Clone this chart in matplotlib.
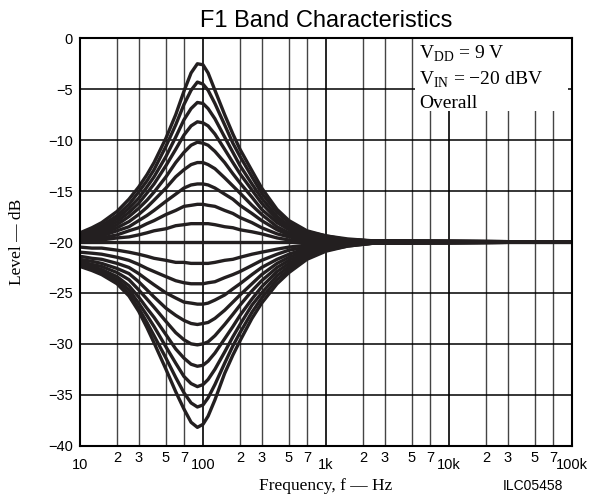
import matplotlib
matplotlib.use("Agg")
import matplotlib.pyplot as plt
from matplotlib.patches import Rectangle

plt.rcParams['font.family'] = ['Liberation Sans', 'DejaVu Sans']
plt.rcParams['mathtext.fontset'] = 'custom'
plt.rcParams['mathtext.rm'] = 'Liberation Serif'

# frequency points (Hz) the curves were read at
freqs = [10, 12.5, 15, 20, 25, 30, 35, 40, 50, 60, 70, 80, 90, 100, 110, 125,
         150, 175, 200, 250, 300, 400, 500, 700, 1000, 1500, 2500, 100000]

# boost settings, largest first (level in dB)
boost_levels = [
    [-19.1, -18.6, -18.1, -17.0, -15.8, -14.6, -13.4, -12.2, -9.8, -7.5, -5.2, -3.4, -2.5, -2.6,
     -3.4, -5.1, -7.5, -9.4, -10.9, -13.0, -14.7, -16.8, -17.9, -18.9, -19.4, -19.7, -19.9, -20.0],
    [-19.2, -18.8, -18.4, -17.4, -16.3, -15.1, -14.0, -12.9, -10.6, -8.5, -6.5, -5.1, -4.3, -4.5,
     -5.1, -6.4, -8.5, -10.3, -11.6, -13.6, -15.2, -17.1, -18.1, -19.0, -19.4, -19.8, -19.9, -20.0],
    [-19.3, -19.0, -18.6, -17.7, -16.7, -15.7, -14.6, -13.6, -11.6, -9.7, -8.0, -6.9, -6.3, -6.4,
     -6.9, -7.9, -9.7, -11.2, -12.5, -14.3, -15.7, -17.5, -18.4, -19.1, -19.5, -19.8, -19.9, -20.0],
    [-19.4, -19.1, -18.8, -18.0, -17.1, -16.2, -15.2, -14.3, -12.5, -10.9, -9.5, -8.6, -8.2, -8.3,
     -8.6, -9.4, -10.9, -12.2, -13.3, -14.9, -16.2, -17.8, -18.6, -19.2, -19.6, -19.8, -19.9, -20.0],
    [-19.5, -19.3, -19.0, -18.3, -17.5, -16.7, -15.9, -15.1, -13.6, -12.2, -11.2, -10.5, -10.2, -10.3,
     -10.5, -11.1, -12.2, -13.3, -14.2, -15.6, -16.8, -18.1, -18.8, -19.4, -19.7, -19.8, -19.9, -20.0],
    [-19.6, -19.4, -19.2, -18.6, -18.0, -17.3, -16.6, -15.9, -14.7, -13.6, -12.9, -12.4, -12.2, -12.2,
     -12.4, -12.8, -13.7, -14.5, -15.2, -16.4, -17.3, -18.5, -19.1, -19.5, -19.8, -19.9, -19.9, -20.0],
    [-19.7, -19.6, -19.4, -18.9, -18.5, -17.9, -17.4, -16.9, -16.0, -15.3, -14.7, -14.4, -14.3, -14.3,
     -14.4, -14.7, -15.3, -15.8, -16.4, -17.2, -17.9, -18.8, -19.3, -19.6, -19.8, -19.9, -20.0, -20.0],
    [-19.8, -19.7, -19.6, -19.3, -18.9, -18.6, -18.2, -17.9, -17.3, -16.9, -16.5, -16.4, -16.3, -16.3,
     -16.4, -16.5, -16.9, -17.2, -17.6, -18.1, -18.6, -19.2, -19.5, -19.8, -19.9, -19.9, -20.0, -20.0],
    [-19.9, -19.8, -19.8, -19.6, -19.5, -19.3, -19.1, -18.9, -18.7, -18.4, -18.3, -18.2, -18.2, -18.2,
     -18.2, -18.3, -18.5, -18.6, -18.8, -19.0, -19.2, -19.6, -19.8, -19.9, -19.9, -20.0, -20.0, -20.0],
]

flat_level = [-20.0] * len(freqs)

# cut settings, smallest first (level in dB)
cut_levels = [
    [-20.5, -20.6, -20.6, -20.8, -21.0, -21.2, -21.4, -21.6, -21.8, -22.0, -22.0, -22.1, -22.1, -22.1,
     -22.1, -22.0, -21.8, -21.7, -21.5, -21.2, -21.0, -20.7, -20.5, -20.3, -20.1, -20.1, -20.0, -20.0],
    [-21.0, -21.1, -21.2, -21.5, -21.8, -22.2, -22.6, -22.9, -23.4, -23.8, -24.0, -24.1, -24.1, -24.1,
     -24.0, -23.9, -23.5, -23.2, -22.9, -22.3, -21.8, -21.2, -20.8, -20.5, -20.2, -20.1, -20.0, -20.0],
    [-21.4, -21.6, -21.7, -22.1, -22.5, -23.1, -23.7, -24.2, -25.0, -25.5, -25.9, -26.0, -26.1, -26.1,
     -26.0, -25.7, -25.2, -24.6, -24.1, -23.2, -22.5, -21.7, -21.2, -20.6, -20.3, -20.2, -20.1, -20.0],
    [-21.7, -21.9, -22.1, -22.6, -23.1, -23.9, -24.7, -25.4, -26.5, -27.2, -27.7, -28.0, -28.1, -28.0,
     -27.9, -27.5, -26.7, -25.9, -25.2, -24.1, -23.2, -22.1, -21.5, -20.8, -20.4, -20.2, -20.1, -20.0],
    [-21.9, -22.2, -22.4, -23.0, -23.7, -24.7, -25.6, -26.4, -27.8, -28.9, -29.6, -30.0, -30.1, -30.0,
     -29.8, -29.2, -28.1, -27.1, -26.2, -24.8, -23.8, -22.5, -21.8, -21.0, -20.5, -20.2, -20.1, -20.0],
    [-22.1, -22.4, -22.7, -23.4, -24.3, -25.4, -26.5, -27.4, -29.1, -30.5, -31.4, -32.0, -32.2, -32.1,
     -31.7, -30.9, -29.5, -28.3, -27.2, -25.6, -24.4, -22.9, -22.1, -21.2, -20.6, -20.3, -20.1, -20.0],
    [-22.2, -22.5, -22.9, -23.7, -24.7, -26.0, -27.2, -28.3, -30.3, -31.9, -33.2, -33.9, -34.2, -34.0,
     -33.5, -32.5, -30.8, -29.3, -28.1, -26.2, -25.0, -23.3, -22.4, -21.3, -20.7, -20.3, -20.1, -20.0],
    [-22.3, -22.7, -23.1, -23.9, -25.1, -26.5, -27.9, -29.2, -31.4, -33.3, -34.8, -35.8, -36.2, -36.0,
     -35.3, -34.0, -31.9, -30.2, -28.9, -26.9, -25.5, -23.7, -22.7, -21.5, -20.8, -20.4, -20.1, -20.0],
    [-22.4, -22.8, -23.2, -24.1, -25.3, -26.8, -28.4, -29.9, -32.5, -34.7, -36.4, -37.7, -38.2, -37.9,
     -37.1, -35.5, -32.9, -31.1, -29.7, -27.5, -26.0, -24.1, -23.0, -21.7, -20.9, -20.4, -20.1, -20.0],
]

y_ticks = [0, -5, -10, -15, -20, -25, -30, -35, -40]
x_major = [10, 100, 1000, 10000, 100000]
x_major_labels = ['10', '100', '1k', '10k', '100k']
decades = [10, 100, 1000, 10000]
mults = [2, 3, 5, 7]

W, H = 591, 496
fig = plt.figure(figsize=(W / 100, H / 100), dpi=100)
ax = fig.add_axes([80 / W, 1 - 445.7 / H, (572 - 80) / W, (445.7 - 38.3) / H])
ax.set_xscale('log')
ax.set_xlim(10, 1e5)
ax.set_ylim(-40, 0)

# grid
minor = [d * m for d in decades for m in mults]
for x in minor:
    ax.axvline(x, color='#444444', lw=1.0, zorder=1)
for x in x_major[1:-1]:
    ax.axvline(x, color='black', lw=1.2, zorder=1)
for yv in y_ticks[1:-1]:
    ax.axhline(yv, color='black', lw=1.1, zorder=1)

# white patch behind the conditions text
ax.add_patch(Rectangle((5250, -7.1), 93000 - 5250, 7.1, facecolor='white',
                       edgecolor='none', zorder=2))

col = '#231f20'
for lv in boost_levels:
    ax.plot(freqs, lv, color=col, lw=2.4, zorder=3, solid_joinstyle='round')
ax.plot(freqs, flat_level, color=col, lw=2.4, zorder=3)
for lv in cut_levels:
    ax.plot(freqs, lv, color=col, lw=2.4, zorder=3, solid_joinstyle='round')

for s in ax.spines.values():
    s.set_linewidth(1.5)
    s.set_zorder(4)

ax.set_yticks(y_ticks)
ax.set_yticklabels([str(v).replace('-', '\u2212') for v in y_ticks], fontsize=10.5)
ax.set_xticks(x_major)
ax.set_xticklabels(x_major_labels, fontsize=10.5)
ax.set_xticks(minor, minor=True)
ax.set_xticklabels([str(m) for m in mults] * len(decades), minor=True, fontsize=10.5)
ax.tick_params(axis='both', which='both', length=0)
ax.tick_params(axis='y', pad=5)
ax.tick_params(axis='x', which='major', pad=9)
ax.tick_params(axis='x', which='minor', pad=3.5)

fig.text(326 / W, 1 - 27 / H, 'F1 Band Characteristics', ha='center',
         va='baseline', fontsize=17)
fig.text(17 / W, 1 - 242 / H, 'Level \u2014 dB', rotation=90, ha='center',
         va='center', fontsize=12.5, family='Liberation Serif')
fig.text(326 / W, 1 - 490 / H, 'Frequency, f \u2014 Hz', ha='center',
         va='baseline', fontsize=12.5, family='Liberation Serif')
fig.text(503 / W, 1 - 490 / H, 'ILC05458', ha='left', va='baseline',
         fontsize=10)

serif = dict(family='Liberation Serif', fontsize=14, ha='left', va='baseline')
fig.text(419 / W, 1 - 59 / H, r'V$_{\mathrm{DD}}$ = 9 V', **serif)
fig.text(419 / W, 1 - 85 / H, 'V$_{\\mathrm{IN}}$ = \u221220 dBV', **serif)
fig.text(419 / W, 1 - 108 / H, 'Overall', **serif)

fig.savefig('out.png', dpi=100)
